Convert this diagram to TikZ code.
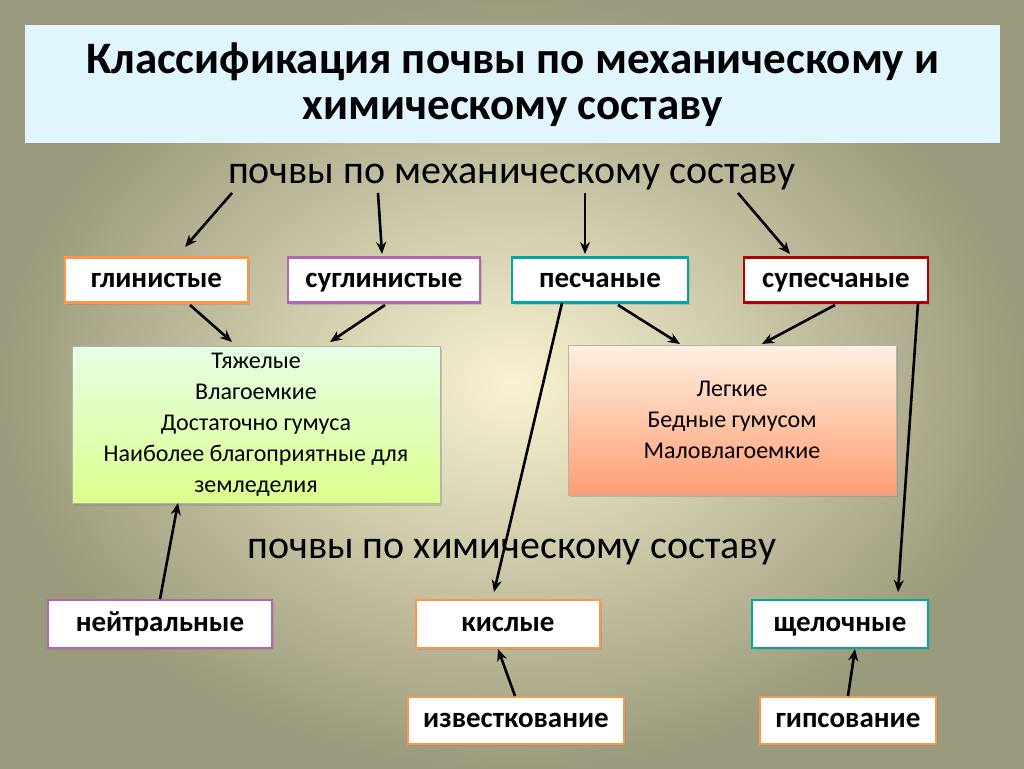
\documentclass[tikz,border=0pt]{standalone}
\usepackage{fontspec}
\setmainfont{Carlito}
\usetikzlibrary{arrows.meta,shadows}
\begin{document}
\begin{tikzpicture}[x=1pt,y=-1pt,
 lbl/.style={draw=#1,line width=2.2pt,fill=white,minimum height=45pt,font=\fontsize{29}{32}\selectfont\bfseries,text height=20pt,text depth=6pt,inner sep=0pt,drop shadow={opacity=0.3}},
 arr/.style={-{Stealth[length=12pt,width=10pt]},line width=2.6pt}]
\useasboundingbox (0,0) rectangle (1024,768);
\shade[inner color=white!88!yellow!90!brown,outer color=black!38!white!88!olive] (0,0) rectangle (1024,768);
\node[fill=cyan!12!white,minimum width=975pt,minimum height=118pt,anchor=north west,inner sep=0pt,align=center,font=\fontsize{45}{46}\selectfont\bfseries] (title) at (25,25) {Классификация почвы по механическому и\\химическому составу};
\node[font=\fontsize{40}{44}\selectfont] (mech) at (512,177) {почвы по механическому составу};
\node[font=\fontsize{40}{44}\selectfont] (chem) at (512,552) {почвы по химическому составу};
\node[lbl=orange!80!red!70,minimum width=183pt] (g) at (156.5,280) {глинистые};
\node[lbl=violet!60,minimum width=192pt] (s) at (384,280) {суглинистые};
\node[lbl=teal!70!cyan,minimum width=176pt] (p) at (600,280) {песчаные};
\node[lbl=red!70!black,minimum width=184pt] (sp) at (836,280) {супесчаные};
\node[draw=black!30,top color=white!90!green,bottom color=green!30!yellow!45,minimum width=368pt,minimum height=157pt,inner sep=0pt,align=center,font=\fontsize{24}{31}\selectfont,drop shadow={opacity=0.35}] (green) at (256,425) {Тяжелые\\Влагоемкие\\Достаточно гумуса\\Наиболее благоприятные для\\земледелия};
\node[draw=black!30,top color=orange!12!white,bottom color=orange!60!red!55,minimum width=328pt,minimum height=150pt,inner sep=0pt,align=center,font=\fontsize{24}{31}\selectfont,drop shadow={opacity=0.35}] (og) at (732,420) {Легкие\\Бедные гумусом\\Маловлагоемкие};
\node[lbl=violet!60,minimum width=224pt,minimum height=48pt] (n) at (160,624) {нейтральные};
\node[lbl=orange!80!red!70,minimum width=184pt,minimum height=48pt] (k) at (508,624) {кислые};
\node[lbl=teal!70!cyan,minimum width=176pt,minimum height=48pt] (sh) at (840,624) {щелочные};
\node[lbl=orange!80!red!70,minimum width=216pt,minimum height=47pt] (iz) at (516,720.5) {известкование};
\node[lbl=orange!80!red!70,minimum width=176pt,minimum height=47pt] (gp) at (848,720.5) {гипсование};
\coordinate (m1) at (232,193); \coordinate (m2) at (378,193);
\coordinate (m3) at (585,193); \coordinate (m4) at (738,193);
\draw[arr] (m1) -- (185,247);
\draw[arr] (m2) -- (382,254);
\draw[arr] (m3) -- (585,254);
\draw[arr] (m4) -- (790,254);
\draw[arr] (190,305) -- (232,342);
\draw[arr] (385,305) -- (330,342);
\draw[arr] (618,305) -- (680,344);
\draw[arr] (835,305) -- (762,344);
\draw[arr] (562,303) -- (494,592);
\draw[arr] (918,303) -- (898,592);
\draw[arr] (160,599) -- (178,503);
\draw[arr] (515,696) -- (498,649);
\draw[arr] (848,696) -- (855,649);
\end{tikzpicture}
\end{document}
